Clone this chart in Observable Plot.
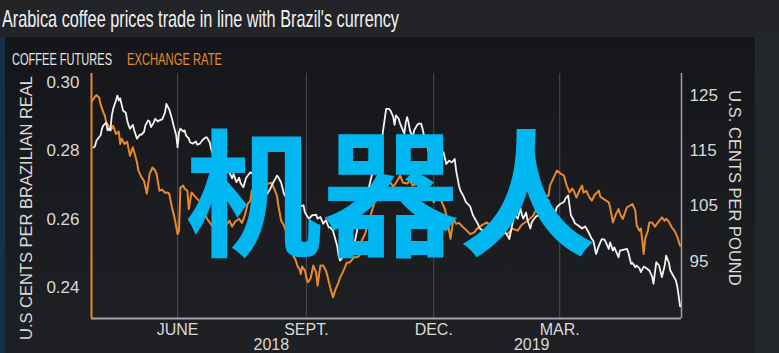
<!DOCTYPE html>
<html><head><meta charset="utf-8">
<script src="https://cdn.jsdelivr.net/npm/d3@7"></script>
<script src="https://cdn.jsdelivr.net/npm/@observablehq/plot@0.6"></script>
<style>
html,body{margin:0;padding:0;width:779px;height:353px;overflow:hidden;background:#23262a;font-family:"Liberation Sans",Arial,sans-serif;}
#band{position:absolute;left:0;top:0;width:779px;height:37px;background:#222428;}
#title{position:absolute;left:2px;top:7px;font-size:24px;line-height:1;color:#f2f2f2;white-space:nowrap;transform-origin:0 0;}
#panel{position:absolute;left:5px;top:37px;width:750px;height:316px;background:linear-gradient(180deg,#151619 0%,#1b1c1f 55%,#1f2023 100%);}
#edge{position:absolute;left:0;top:37px;width:5px;height:316px;background:#15304a;}
.lg{position:absolute;top:51px;font-size:17px;line-height:1;white-space:nowrap;transform-origin:0 0;}
#chart{position:absolute;left:0;top:37px;}
</style></head>
<body>
<div id="band"></div>
<div id="panel"></div>
<div id="edge"></div>
<div id="title"></div>
<div id="lg1" class="lg" style="left:12px;color:#e6e6e6"></div>
<div id="lg2" class="lg" style="left:127px;color:#e8892b"></div>
<div id="chart"></div>
<script>
// ---- text ----
const titleText = "Arabica coffee prices trade in line with Brazil's currency";
const seriesNames = ["COFFEE FUTURES", "EXCHANGE RATE"];
const leftTitle = "U.S CENTS PER BRAZILIAN REAL";
const rightTitle = "U.S. CENTS PER POUND";
const watermark = "机器人";

// ---- ticks ----
const monthTickDates = ["2018-06-01", "2018-09-01", "2018-12-01", "2019-03-01"];
const monthTickLabels = ["JUNE", "SEPT.", "DEC.", "MAR."];
const yearLabelDates = ["2018-08-07", "2019-02-09"];
const yearLabels = ["2018", "2019"];
const rateTicks = [0.24, 0.26, 0.28, 0.30];
const coffeeTicks = [95, 105, 115, 125];

// ---- exchange rate (US cents per Brazilian real) ----
const exchangeDates = ["2018-04-01","2018-04-03","2018-04-04","2018-04-06","2018-04-07","2018-04-09","2018-04-10","2018-04-11","2018-04-13","2018-04-14","2018-04-16","2018-04-18","2018-04-20","2018-04-21","2018-04-22","2018-04-24","2018-04-26","2018-04-28","2018-04-30","2018-05-03","2018-05-04","2018-05-06","2018-05-08","2018-05-10","2018-05-12","2018-05-14","2018-05-16","2018-05-17","2018-05-19","2018-05-21","2018-05-23","2018-05-25","2018-05-26","2018-05-27","2018-05-28","2018-05-30","2018-06-01","2018-06-02","2018-06-03","2018-06-05","2018-06-06","2018-06-08","2018-06-09","2018-06-11","2018-06-13","2018-06-15","2018-06-17","2018-06-19","2018-06-20","2018-06-22","2018-06-25","2018-06-27","2018-06-29","2018-07-01","2018-07-03","2018-07-06","2018-07-08","2018-07-10","2018-07-12","2018-07-15","2018-07-17","2018-07-19","2018-07-21","2018-07-23","2018-07-24","2018-07-26","2018-07-27","2018-07-30","2018-08-01","2018-08-03","2018-08-05","2018-08-07","2018-08-09","2018-08-11","2018-08-12","2018-08-14","2018-08-16","2018-08-18","2018-08-20","2018-08-21","2018-08-23","2018-08-24","2018-08-26","2018-08-27","2018-08-28","2018-08-29","2018-08-31","2018-09-01","2018-09-02","2018-09-04","2018-09-06","2018-09-08","2018-09-09","2018-09-11","2018-09-13","2018-09-15","2018-09-16","2018-09-18","2018-09-20","2018-09-22","2018-09-24","2018-09-25","2018-09-27","2018-09-30","2018-10-02","2018-10-05","2018-10-07","2018-10-09","2018-10-10","2018-10-13","2018-10-15","2018-10-17","2018-10-19","2018-10-20","2018-10-22","2018-10-24","2018-10-26","2018-10-28","2018-10-31","2018-11-02","2018-11-04","2018-11-07","2018-11-09","2018-11-12","2018-11-14","2018-11-16","2018-11-19","2018-11-21","2018-11-23","2018-11-26","2018-11-28","2018-12-01","2018-12-03","2018-12-06","2018-12-09","2018-12-11","2018-12-13","2018-12-15","2018-12-17","2018-12-19","2018-12-22","2018-12-24","2018-12-27","2018-12-30","2019-01-01","2019-01-03","2019-01-06","2019-01-08","2019-01-11","2019-01-13","2019-01-16","2019-01-20","2019-01-23","2019-01-26","2019-01-30","2019-02-02","2019-02-06","2019-02-10","2019-02-13","2019-02-15","2019-02-18","2019-02-21","2019-02-22","2019-02-25","2019-02-27","2019-03-02","2019-03-04","2019-03-06","2019-03-08","2019-03-10","2019-03-11","2019-03-13","2019-03-15","2019-03-17","2019-03-18","2019-03-20","2019-03-22","2019-03-24","2019-03-26","2019-03-29","2019-03-30","2019-04-01","2019-04-05","2019-04-06","2019-04-08","2019-04-10","2019-04-12","2019-04-13","2019-04-15","2019-04-18","2019-04-20","2019-04-22","2019-04-24","2019-04-25","2019-04-27","2019-04-28","2019-04-29","2019-04-30","2019-05-01","2019-05-03","2019-05-04","2019-05-06","2019-05-08","2019-05-10","2019-05-13","2019-05-15","2019-05-16","2019-05-18","2019-05-20","2019-05-22","2019-05-24","2019-05-26"];
const exchangeValues = [0.2946,0.2958,0.2963,0.2955,0.2935,0.2912,0.2903,0.2883,0.2870,0.2859,0.2873,0.2849,0.2856,0.2820,0.2835,0.2820,0.2826,0.2785,0.2810,0.2766,0.2742,0.2724,0.2712,0.2674,0.2732,0.2751,0.2742,0.2732,0.2683,0.2686,0.2677,0.2678,0.2674,0.2654,0.2634,0.2600,0.2556,0.2566,0.2693,0.2698,0.2689,0.2683,0.2629,0.2678,0.2668,0.2659,0.2651,0.2639,0.2625,0.2601,0.2584,0.2572,0.2584,0.2566,0.2589,0.2584,0.2595,0.2578,0.2592,0.2601,0.2589,0.2610,0.2644,0.2654,0.2683,0.2663,0.2677,0.2671,0.2686,0.2698,0.2704,0.2706,0.2689,0.2668,0.2639,0.2595,0.2581,0.2556,0.2551,0.2522,0.2488,0.2484,0.2459,0.2455,0.2439,0.2461,0.2449,0.2428,0.2415,0.2426,0.2464,0.2443,0.2405,0.2464,0.2464,0.2449,0.2434,0.2400,0.2371,0.2396,0.2415,0.2428,0.2444,0.2473,0.2473,0.2488,0.2488,0.2493,0.2532,0.2557,0.2590,0.2613,0.2639,0.2654,0.2668,0.2654,0.2683,0.2707,0.2707,0.2695,0.2706,0.2727,0.2707,0.2704,0.2712,0.2698,0.2704,0.2688,0.2683,0.2668,0.2677,0.2649,0.2663,0.2657,0.2629,0.2590,0.2542,0.2600,0.2586,0.2589,0.2576,0.2569,0.2556,0.2561,0.2572,0.2578,0.2586,0.2590,0.2578,0.2581,0.2566,0.2561,0.2557,0.2572,0.2566,0.2584,0.2595,0.2610,0.2634,0.2645,0.2668,0.2668,0.2698,0.2724,0.2742,0.2732,0.2727,0.2698,0.2678,0.2689,0.2683,0.2663,0.2683,0.2698,0.2677,0.2683,0.2665,0.2654,0.2671,0.2683,0.2665,0.2660,0.2649,0.2634,0.2590,0.2613,0.2629,0.2616,0.2600,0.2634,0.2639,0.2644,0.2625,0.2581,0.2566,0.2572,0.2537,0.2498,0.2543,0.2566,0.2590,0.2590,0.2578,0.2589,0.2605,0.2595,0.2601,0.2592,0.2576,0.2566,0.2548,0.2522];

// ---- coffee futures (US cents per pound) ----
const coffeeDates = ["2018-04-02","2018-04-03","2018-04-04","2018-04-07","2018-04-08","2018-04-09","2018-04-11","2018-04-12","2018-04-13","2018-04-14","2018-04-15","2018-04-16","2018-04-18","2018-04-19","2018-04-20","2018-04-21","2018-04-23","2018-04-25","2018-04-26","2018-04-27","2018-04-28","2018-04-30","2018-05-01","2018-05-03","2018-05-05","2018-05-06","2018-05-08","2018-05-09","2018-05-11","2018-05-12","2018-05-13","2018-05-15","2018-05-16","2018-05-18","2018-05-19","2018-05-21","2018-05-23","2018-05-24","2018-05-26","2018-05-28","2018-05-29","2018-05-31","2018-06-01","2018-06-02","2018-06-03","2018-06-05","2018-06-06","2018-06-07","2018-06-09","2018-06-10","2018-06-12","2018-06-14","2018-06-15","2018-06-17","2018-06-19","2018-06-21","2018-06-22","2018-06-24","2018-06-25","2018-06-27","2018-06-30","2018-07-02","2018-07-05","2018-07-08","2018-07-10","2018-07-11","2018-07-13","2018-07-15","2018-07-16","2018-07-18","2018-07-20","2018-07-23","2018-07-24","2018-07-26","2018-07-27","2018-07-30","2018-08-01","2018-08-02","2018-08-04","2018-08-06","2018-08-08","2018-08-10","2018-08-11","2018-08-12","2018-08-14","2018-08-15","2018-08-16","2018-08-18","2018-08-19","2018-08-21","2018-08-23","2018-08-25","2018-08-27","2018-08-30","2018-08-31","2018-09-02","2018-09-03","2018-09-05","2018-09-08","2018-09-09","2018-09-11","2018-09-13","2018-09-15","2018-09-17","2018-09-18","2018-09-20","2018-09-21","2018-09-23","2018-09-24","2018-09-25","2018-09-26","2018-09-28","2018-09-30","2018-10-02","2018-10-05","2018-10-07","2018-10-09","2018-10-11","2018-10-14","2018-10-16","2018-10-18","2018-10-20","2018-10-22","2018-10-24","2018-10-25","2018-10-26","2018-10-27","2018-10-28","2018-10-30","2018-10-31","2018-11-02","2018-11-03","2018-11-04","2018-11-06","2018-11-07","2018-11-09","2018-11-10","2018-11-11","2018-11-12","2018-11-13","2018-11-14","2018-11-16","2018-11-17","2018-11-19","2018-11-20","2018-11-22","2018-11-23","2018-11-24","2018-11-26","2018-11-27","2018-11-29","2018-12-01","2018-12-03","2018-12-05","2018-12-08","2018-12-10","2018-12-12","2018-12-14","2018-12-16","2018-12-17","2018-12-19","2018-12-20","2018-12-22","2018-12-24","2018-12-27","2018-12-29","2019-01-01","2019-01-03","2019-01-05","2019-01-07","2019-01-10","2019-01-13","2019-01-16","2019-01-18","2019-01-21","2019-01-23","2019-01-24","2019-01-26","2019-01-27","2019-01-28","2019-01-30","2019-02-01","2019-02-02","2019-02-03","2019-02-05","2019-02-06","2019-02-08","2019-02-09","2019-02-10","2019-02-12","2019-02-14","2019-02-15","2019-02-17","2019-02-18","2019-02-20","2019-02-21","2019-02-22","2019-02-24","2019-02-26","2019-02-27","2019-03-01","2019-03-04","2019-03-05","2019-03-07","2019-03-08","2019-03-09","2019-03-11","2019-03-12","2019-03-14","2019-03-17","2019-03-19","2019-03-21","2019-03-22","2019-03-24","2019-03-25","2019-03-27","2019-03-29","2019-03-31","2019-04-02","2019-04-03","2019-04-05","2019-04-06","2019-04-08","2019-04-09","2019-04-12","2019-04-13","2019-04-16","2019-04-18","2019-04-19","2019-04-21","2019-04-22","2019-04-24","2019-04-25","2019-04-27","2019-04-28","2019-04-30","2019-05-02","2019-05-04","2019-05-06","2019-05-07","2019-05-08","2019-05-09","2019-05-11","2019-05-13","2019-05-15","2019-05-16","2019-05-18","2019-05-19","2019-05-21","2019-05-23","2019-05-24","2019-05-26"];
const coffeeValues = [115.6,115.8,116.8,117.8,119.0,119.6,120.1,118.7,119.0,118.7,121.4,122.6,124.1,125.0,124.1,124.5,122.3,121.9,120.5,119.6,119.0,119.7,118.7,117.2,117.9,117.9,118.4,119.6,120.5,120.3,119.3,120.1,120.8,120.3,120.5,120.7,121.9,123.5,122.5,120.8,119.7,117.8,115.6,118.3,119.0,118.5,118.7,117.8,117.2,116.5,116.3,116.7,116.1,116.3,117.0,117.4,117.4,116.5,115.3,113.8,113.2,112.3,111.4,111.1,110.0,110.8,109.3,110.1,109.1,108.4,110.1,111.1,110.9,110.8,110.3,109.6,108.7,107.8,107.2,108.0,109.1,110.0,110.5,110.2,109.2,108.2,107.2,106.3,106.2,106.0,105.1,104.2,104.9,105.1,103.8,103.0,102.7,103.3,103.4,102.7,103.0,101.8,102.4,101.1,101.1,100.5,99.6,97.8,96.0,95.1,95.4,96.2,96.3,96.9,97.8,100.2,102.7,105.1,106.3,108.7,110.8,113.2,114.7,115.3,117.2,119.0,120.8,122.6,122.6,122.3,121.2,119.7,121.4,120.8,119.9,118.7,118.1,120.1,121.1,120.1,118.7,117.4,118.7,119.6,119.9,119.9,119.0,117.8,116.5,115.0,114.0,114.7,114.1,115.0,114.7,112.6,113.2,112.9,113.5,111.4,108.7,107.8,106.9,105.7,104.9,103.3,102.0,100.9,100.5,99.3,99.8,99.1,100.2,99.5,100.2,99.5,99.0,101.5,102.7,103.4,102.7,104.5,103.4,102.7,103.8,102.4,100.9,102.0,102.4,103.1,103.3,103.8,104.5,104.2,105.1,106.0,103.8,103.3,103.9,104.8,105.3,105.7,106.3,106.9,105.1,103.3,102.4,101.8,101.5,100.9,101.3,100.5,100.0,99.0,98.7,96.3,97.8,99.0,98.9,98.4,97.2,98.4,96.9,97.5,95.7,96.9,97.1,97.2,96.6,94.5,94.7,93.9,94.2,93.7,93.0,94.0,93.7,93.3,92.2,90.9,92.9,94.8,94.2,92.1,94.2,96.0,94.7,93.3,92.4,91.5,90.4,86.8];

// ---- scale domains ----
const xDomain = [new Date("2018-03-31T12:00:00Z"), new Date("2019-05-27T00:00:00Z")];
const rateDomain = [0.2309, 0.3026];
const coffeeDomain = [84.6, 129.0];

const orange = "#e8892b";
const inkText = "#d9d9d9";
const toRate = d3.scaleLinear(coffeeDomain, rateDomain);

const exchange = exchangeDates.map((d, i) => ({date: new Date(d), value: exchangeValues[i]}));
const coffee = coffeeDates.map((d, i) => ({date: new Date(d), value: coffeeValues[i]}));
const gridDates = monthTickDates.map(d => new Date(d));
const monthByTime = new Map(gridDates.map((d, i) => [+d, monthTickLabels[i]]));
const years = yearLabelDates.map((d, i) => ({date: new Date(d), label: yearLabels[i]}));

const chart = Plot.plot({
  width: 779, height: 316,
  marginLeft: 91, marginRight: 98, marginTop: 36, marginBottom: 35,
  style: {background: "transparent", color: inkText, fontFamily: "'Liberation Sans', Arial, sans-serif", overflow: "visible"},
  x: {type: "utc", domain: xDomain},
  y: {domain: rateDomain},
  marks: [
    Plot.ruleX(gridDates, {stroke: "#4b4d51", strokeWidth: 1}),
    Plot.ruleY([rateDomain[0]], {stroke: "#a3a3a3", strokeWidth: 2}),
    Plot.ruleX([xDomain[1]], {stroke: "#a3a3a3", strokeWidth: 1.5}),
    Plot.ruleX([xDomain[0]], {stroke: orange, strokeWidth: 2}),
    Plot.axisY({anchor: "left", ticks: rateTicks, tickFormat: d3.format(".2f"), tickSize: 0, tickPadding: 12, fontSize: 17, label: null, fill: inkText}),
    Plot.axisY({anchor: "right", ticks: coffeeTicks.map(toRate), tickFormat: d => d3.format(".0f")(toRate.invert(d)), tickSize: 0, tickPadding: 8, fontSize: 17, label: null, fill: inkText}),
    Plot.axisX({ticks: gridDates, tickFormat: d => monthByTime.get(+d), tickSize: 0, tickPadding: 5, fontSize: 16, label: null, fill: inkText}),
    Plot.text(years, {x: "date", text: "label", frameAnchor: "bottom", lineAnchor: "top", dy: 20, fontSize: 16, fill: inkText}),
    Plot.text([leftTitle], {text: d => d, frameAnchor: "left", textAnchor: "middle", lineAnchor: "middle", rotate: -90, dx: -64.5, dy: 12, fontSize: 16.5, fill: inkText}),
    Plot.text([rightTitle], {text: d => d, frameAnchor: "right", textAnchor: "middle", lineAnchor: "middle", rotate: 90, dx: 52.5, dy: -8, fontSize: 16.5, fill: inkText}),
    Plot.line(exchange, {x: "date", y: "value", stroke: orange, strokeWidth: 2}),
    Plot.line(coffee, {x: "date", y: d => toRate(d.value), stroke: "#f4f4f4", strokeWidth: 1.8}),
    Plot.text([watermark], {text: d => d, frameAnchor: "middle", textAnchor: "middle", lineAnchor: "middle", dx: 4, dy: 6, fontSize: 137, fontWeight: 700, fill: "#00b7f1", fontFamily: "'Noto Sans CJK SC', sans-serif"})
  ]
});
document.getElementById("chart").appendChild(chart);

// header texts, squeezed to the condensed widths of the original
const title = document.getElementById("title");
title.textContent = titleText;
const lg1 = document.getElementById("lg1");
lg1.textContent = seriesNames[0];
const lg2 = document.getElementById("lg2");
lg2.textContent = seriesNames[1];
function fit(el, w) {
  const r = el.getBoundingClientRect().width;
  if (r > 0) el.style.transform = `scaleX(${w / r})`;
}
fit(title, 397);
fit(lg1, 100);
fit(lg2, 95);
</script>
</body></html>
